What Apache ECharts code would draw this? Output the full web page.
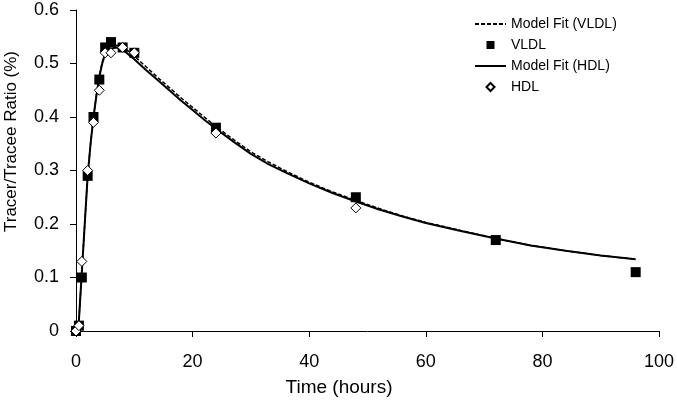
<!DOCTYPE html>
<html>
<head>
<meta charset="utf-8">
<script src="https://cdn.jsdelivr.net/npm/echarts@6/dist/echarts.min.js"></script>
<style>
  html, body { margin: 0; padding: 0; background: #fff; }
  #chart { width: 677px; height: 402px; }
</style>
</head>
<body>
<div id="chart"></div>
<script>
// Measured data points (time in hours, tracer/tracee ratio %)
const vldlTimes = [0, 0.5, 1, 2, 3, 4, 5, 6, 8, 10, 24, 48, 72, 96];
const vldlValues = [0, 0.01, 0.10, 0.29, 0.40, 0.47, 0.53, 0.54, 0.53, 0.52, 0.38, 0.25, 0.17, 0.11];
const hdlTimes = [0, 0.5, 1, 2, 3, 4, 5, 6, 8, 10, 24, 48];
const hdlValues = [0, 0.01, 0.13, 0.30, 0.39, 0.45, 0.52, 0.52, 0.53, 0.52, 0.37, 0.23];

// Model fit curves
const fitTimes = [0, 0.5, 1, 1.5, 2, 2.5, 3, 3.5, 4, 4.5, 5, 5.5, 6, 7, 8, 9, 10, 12, 14, 16, 18, 20, 22, 24, 27, 30, 33, 36, 40, 44, 48, 52, 56, 60, 66, 72, 78, 84, 90, 96];
const vldlFit = [0, 0.02, 0.11, 0.20, 0.29, 0.35, 0.40, 0.442, 0.477, 0.503, 0.520, 0.528, 0.532, 0.534, 0.531, 0.523, 0.514, 0.494, 0.474, 0.455, 0.436, 0.418, 0.400, 0.382, 0.358, 0.335, 0.316, 0.299, 0.278, 0.260, 0.244, 0.229, 0.215, 0.203, 0.188, 0.173, 0.160, 0.150, 0.141, 0.134];
const hdlFit = [0, 0.02, 0.11, 0.20, 0.29, 0.35, 0.40, 0.44, 0.475, 0.500, 0.518, 0.525, 0.528, 0.530, 0.526, 0.517, 0.508, 0.488, 0.469, 0.450, 0.431, 0.413, 0.395, 0.378, 0.354, 0.331, 0.312, 0.296, 0.276, 0.258, 0.242, 0.227, 0.214, 0.202, 0.187, 0.173, 0.160, 0.150, 0.141, 0.134];

const xTicks = { min: 0, max: 100, interval: 20 };
const yTicks = { min: 0, max: 0.6, interval: 0.1 };

const seriesNames = ['Model Fit (VLDL)', 'VLDL', 'Model Fit (HDL)', 'HDL'];

function pairs(xs, ys) { return xs.map((x, i) => [x, ys[i]]); }

const FONT = "'Liberation Sans', Arial, sans-serif";
const chart = echarts.init(document.getElementById('chart'), null, { renderer: 'canvas' });

const hiddenSymbol = { color: 'rgba(0,0,0,0)', borderColor: 'rgba(0,0,0,0)', borderWidth: 0, opacity: 0 };

chart.setOption({
  animation: false,
  backgroundColor: '#ffffff',
  grid: { left: 76, right: 18, top: 10, bottom: 71, containLabel: false, outerBoundsMode: 'none' },
  legend: {
    orient: 'vertical',
    left: 469,
    top: 11,
    itemWidth: 31,
    itemHeight: 8,
    itemGap: 5,
    symbolKeepAspect: true,
    textStyle: { fontFamily: FONT, fontSize: 14, color: '#000', lineHeight: 16 },
    data: [
      { name: seriesNames[0], itemStyle: hiddenSymbol },
      { name: seriesNames[1], icon: 'path://M0,0H1V1H0Z' },
      { name: seriesNames[2], itemStyle: hiddenSymbol },
      { name: seriesNames[3], icon: 'path://M5,0L10,5L5,10L0,5Z' }
    ]
  },
  xAxis: {
    type: 'value',
    min: xTicks.min, max: xTicks.max, interval: xTicks.interval,
    name: 'Time (hours)',
    nameLocation: 'middle',
    nameGap: 47,
    nameMoveOverlap: false,
    nameTextStyle: { fontFamily: FONT, fontSize: 19, color: '#000', padding: [0, 57, 0, 0] },
    axisLine: { show: true, lineStyle: { color: '#000', width: 1 } },
    axisTick: { show: true, inside: false, length: 6, lineStyle: { color: '#000' } },
    axisLabel: { fontFamily: FONT, fontSize: 18, color: '#000', margin: 22 },
    splitLine: { show: false }
  },
  yAxis: {
    type: 'value',
    min: yTicks.min, max: yTicks.max, interval: yTicks.interval,
    name: 'Tracer/Tracee Ratio (%)',
    nameLocation: 'middle',
    nameGap: 56,
    nameMoveOverlap: false,
    nameTextStyle: { fontFamily: FONT, fontSize: 17, color: '#000', padding: [0, 0, 0, 58] },
    axisLine: { show: true, lineStyle: { color: '#000', width: 1 } },
    axisTick: { show: true, inside: false, length: 6, lineStyle: { color: '#000' } },
    axisLabel: {
      fontFamily: FONT, fontSize: 18, color: '#000', margin: 17,
      formatter: v => String(+v.toFixed(1))
    },
    splitLine: { show: false }
  },
  series: [
    {
      name: seriesNames[0], type: 'line', data: pairs(fitTimes, vldlFit),
      symbol: 'none', smooth: false,
      lineStyle: { color: '#000', width: 1.5, type: [4, 2] },
      itemStyle: { color: '#000' }, z: 2
    },
    {
      name: seriesNames[1], type: 'scatter', data: pairs(vldlTimes, vldlValues),
      symbol: 'rect', symbolSize: 10,
      itemStyle: { color: '#000', borderColor: '#000', borderWidth: 0, opacity: 1 }, z: 3
    },
    {
      name: seriesNames[2], type: 'line', data: pairs(fitTimes, hdlFit),
      symbol: 'none', smooth: false,
      lineStyle: { color: '#000', width: 2, type: 'solid' },
      itemStyle: { color: '#000' }, z: 2
    },
    {
      name: seriesNames[3], type: 'scatter', data: pairs(hdlTimes, hdlValues),
      symbol: 'diamond', symbolSize: 10,
      itemStyle: { color: '#fff', borderColor: '#000', borderWidth: 1, opacity: 1 }, z: 4
    }
  ]
});
</script>
</body>
</html>
